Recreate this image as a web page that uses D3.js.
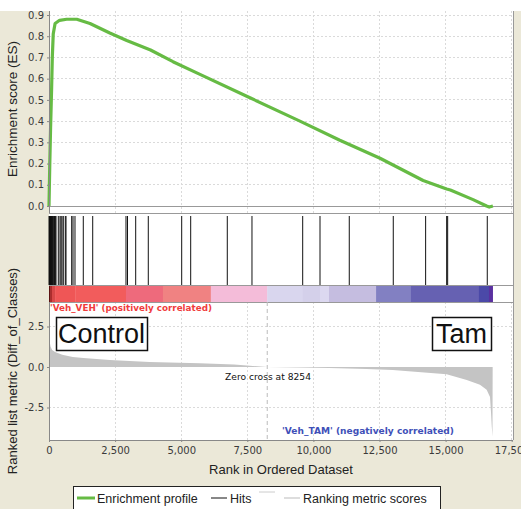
<!DOCTYPE html>
<html>
<head>
<meta charset="utf-8">
<script src="https://cdn.jsdelivr.net/npm/d3@7"></script>
<style>
  body { margin: 0; background: #fff; }
  svg { display: block; }
</style>
</head>
<body>
<div id="chart"></div>
<script>
// running enrichment score
const esRanks  = [0, 30, 60, 100, 125, 160, 230, 400, 670, 1050, 1550, 2300, 2940, 3840, 4690, 5710, 7600, 9490, 11000, 12520, 14150, 15040, 15180, 16040, 16550, 16650, 16790];
const esScores = [0, 0.2, 0.37, 0.56, 0.70, 0.81, 0.86, 0.875, 0.88, 0.88, 0.86, 0.815, 0.78, 0.735, 0.68, 0.62, 0.51, 0.40, 0.31, 0.225, 0.12, 0.08, 0.075, 0.03, 0.0, -0.005, 0.0];

// positions of the gene set members in the ranked list
const hitRanks = [5, 12, 20, 28, 35, 45, 55, 65, 78, 90, 105, 120, 140, 160, 185, 210, 240, 265,
  352, 416, 454, 492, 541, 616, 643, 858, 908, 983, 1297, 1653, 2912, 2969, 3279, 3755,
  5019, 5359, 6743, 7677, 9595, 10250, 11357, 13021, 14245, 15040, 15078, 16576];

// ranked list metric
const metricRanks  = [0, 20, 60, 120, 230, 500, 900, 1300, 2300, 3800, 5700, 7000, 7600, 8254, 9500, 10600, 12000, 13000, 15040, 15800, 16300, 16553, 16680, 16717, 16743, 16773, 16780];
const metricScores = [1.95, 1.6, 1.25, 1.05, 0.92, 0.76, 0.62, 0.56, 0.43, 0.31, 0.23, 0.15, 0.08, 0, -0.03, -0.06, -0.13, -0.19, -0.45, -0.8, -1.1, -1.4, -1.85, -2.8, -3.6, -4.3, 0];

// heat bar: rank where each band starts and its colour
const barStarts = [0, 40, 110, 230, 1000, 2910, 4310, 6120, 8254, 9595, 10250, 10590, 12370, 13690, 16260, 16640];
const barColors = ["#5c1212", "#a82a2a", "#d84848", "#ef5656", "#f25c5c", "#ee6a7c", "#f08282", "#f4bcd9", "#d9d6ee", "#d4d0ea", "#dcd8f0", "#c5bde0", "#8280c2", "#6661b2", "#4b49a8", "#5a30a0"];
const totalGenes = 16780;
const zeroCross = 8254;

const xTicks = [0, 2500, 5000, 7500, 10000, 12500, 15000, 17500];
const esTicks = [0, 0.1, 0.2, 0.3, 0.4, 0.5, 0.6, 0.7, 0.8, 0.9];
const metricTicks = [-2.5, 0, 2.5];

const width = 521, height = 509;
const left = 49, right = 513;
const beige = "#ebe8d8";
const green = "#66bb44";

const svg = d3.select("#chart").append("svg")
    .attr("width", width)
    .attr("height", height)
    .attr("viewBox", [0, 0, width, height]);

svg.append("rect").attr("width", width).attr("height", height).attr("fill", beige);
svg.append("rect").attr("width", width).attr("height", 11).attr("fill", "#fff");
svg.append("rect").attr("x", left).attr("y", 11).attr("width", right - left).attr("height", 429).attr("fill", "#fff");

const x = d3.scaleLinear().domain([0, 17500]).range([left, 511.7]);
const yEs = d3.scaleLinear().domain([0, 0.9]).range([206, 15]);
const yM = d3.scaleLinear().domain([0, 2.5]).range([367, 326.5]);

// grid
const grid = svg.append("g")
    .attr("stroke", "#dadada")
    .attr("stroke-dasharray", "2,2")
    .attr("shape-rendering", "crispEdges");
grid.selectAll(".ves").data(xTicks.slice(1)).join("line")
    .attr("x1", d => x(d)).attr("x2", d => x(d)).attr("y1", 11).attr("y2", 213);
grid.selectAll(".hes").data(esTicks.slice(1)).join("line")
    .attr("x1", left).attr("x2", right).attr("y1", d => yEs(d)).attr("y2", d => yEs(d));
grid.selectAll(".vm").data(xTicks.slice(1)).join("line")
    .attr("class", "vm")
    .attr("x1", d => x(d)).attr("x2", d => x(d)).attr("y1", 302).attr("y2", 440);
grid.selectAll(".hm").data(metricTicks.filter(d => d !== 0)).join("line")
    .attr("class", "hm")
    .attr("x1", left).attr("x2", right).attr("y1", d => yM(d)).attr("y2", d => yM(d));

// panel separators
const sep = svg.append("g").attr("stroke", "#999").attr("shape-rendering", "crispEdges");
[206, 213, 285, 302].forEach(y => {
    sep.append("line").attr("x1", left).attr("x2", right).attr("y1", y + 0.5).attr("y2", y + 0.5);
});
sep.append("line").attr("x1", right + 0.5).attr("x2", right + 0.5).attr("y1", 11).attr("y2", 440);

// ES curve
const esData = esRanks.map((r, i) => ({rank: r, es: esScores[i]}));
svg.append("path")
    .datum(esData)
    .attr("fill", "none")
    .attr("stroke", green)
    .attr("stroke-width", 3.2)
    .attr("stroke-linejoin", "round")
    .attr("d", d3.line().x(d => x(d.rank)).y(d => yEs(d.es)));

// hits
svg.append("g")
    .attr("stroke", "#111")
    .attr("stroke-width", 1)
    .selectAll("line")
    .data(hitRanks)
    .join("line")
    .attr("x1", d => x(d)).attr("x2", d => x(d))
    .attr("y1", 216).attr("y2", 285);

// heat bar
const bands = barStarts.map((s, i) => ({start: s, end: barStarts[i + 1] ?? totalGenes, color: barColors[i]}));
svg.append("g")
    .selectAll("rect")
    .data(bands)
    .join("rect")
    .attr("x", d => x(d.start))
    .attr("width", d => x(d.end) - x(d.start) + 0.3)
    .attr("y", 286)
    .attr("height", 16)
    .attr("fill", d => d.color);

// metric area
const mData = metricRanks.map((r, i) => ({rank: r, v: metricScores[i]}));
svg.append("path")
    .datum(mData)
    .attr("fill", "#c4c4c4")
    .attr("d", d3.area().x(d => x(d.rank)).y0(yM(0)).y1(d => yM(d.v)));

// zero cross
svg.append("line")
    .attr("x1", x(zeroCross)).attr("x2", x(zeroCross))
    .attr("y1", 302).attr("y2", 440)
    .attr("stroke", "#bbb")
    .attr("stroke-dasharray", "4,3");
svg.append("text")
    .attr("x", 225)
    .attr("y", 380)
    .attr("font-family", "DejaVu Sans")
    .attr("font-size", 8.3)
    .attr("textLength", 86)
    .attr("lengthAdjust", "spacingAndGlyphs")
    .attr("fill", "#111")
    .text(`Zero cross at ${zeroCross}`);

svg.append("text")
    .attr("x", 50).attr("y", 311)
    .attr("font-family", "DejaVu Sans")
    .attr("font-weight", "bold")
    .attr("font-size", 8.6)
    .attr("textLength", 162)
    .attr("lengthAdjust", "spacingAndGlyphs")
    .attr("fill", "#f03c3c")
    .text("'Veh_VEH' (positively correlated)");
svg.append("text")
    .attr("x", 282).attr("y", 434)
    .attr("font-family", "DejaVu Sans")
    .attr("font-weight", "bold")
    .attr("font-size", 8.6)
    .attr("textLength", 172)
    .attr("lengthAdjust", "spacingAndGlyphs")
    .attr("fill", "#4050b8")
    .text("'Veh_TAM' (negatively correlated)");

// Control / Tam boxes
function boxLabel(x0, x1, label) {
    const g = svg.append("g");
    g.append("rect")
        .attr("x", x0 + 0.5).attr("y", 317.5)
        .attr("width", x1 - x0).attr("height", 33)
        .attr("fill", "#fff").attr("stroke", "#111").attr("stroke-width", 1.5);
    g.append("text")
        .attr("x", (x0 + x1) / 2).attr("y", 343)
        .attr("text-anchor", "middle")
        .attr("font-family", "Liberation Sans")
        .attr("font-size", 27)
        .attr("fill", "#111")
        .text(label);
}
boxLabel(56, 147, "Control");
boxLabel(432, 491, "Tam");

// axes
const tickFont = g => g.selectAll("text")
    .attr("font-family", "DejaVu Sans")
    .attr("font-size", 10)
    .attr("fill", "#3a3a3a");

svg.append("g")
    .attr("transform", `translate(${left},0)`)
    .call(d3.axisLeft(yEs).tickValues(esTicks).tickFormat(d => d.toFixed(1)).tickSize(2).tickPadding(3))
    .call(g => g.select(".domain").attr("stroke", "#888").attr("d", "M0.5,11V213"))
    .call(g => g.selectAll(".tick line").attr("stroke", "#888"))
    .call(tickFont);

svg.append("g")
    .attr("transform", `translate(${left},0)`)
    .call(d3.axisLeft(yM).tickValues(metricTicks).tickFormat(d => d.toFixed(1)).tickSize(2).tickPadding(3))
    .call(g => g.select(".domain").attr("stroke", "#888").attr("d", "M0.5,302V440"))
    .call(g => g.selectAll(".tick line").attr("stroke", "#888"))
    .call(tickFont);

svg.append("g")
    .attr("transform", "translate(0,440)")
    .call(d3.axisBottom(x).tickValues(xTicks).tickFormat(d3.format(",")).tickSize(2).tickPadding(5))
    .call(g => g.select(".domain").attr("stroke", "#888").attr("d", `M${left},0.5H${right}`))
    .call(g => g.selectAll(".tick line").attr("stroke", "#888"))
    .call(tickFont);

// axis titles
svg.append("text")
    .attr("x", 281).attr("y", 474)
    .attr("text-anchor", "middle")
    .attr("font-family", "Liberation Sans")
    .attr("font-size", 13)
    .attr("fill", "#222")
    .text("Rank in Ordered Dataset");
svg.append("text")
    .attr("transform", "translate(17,109) rotate(-90)")
    .attr("text-anchor", "middle")
    .attr("font-family", "Liberation Sans")
    .attr("font-size", 13.5)
    .attr("fill", "#222")
    .text("Enrichment score (ES)");
svg.append("text")
    .attr("transform", "translate(17,371) rotate(-90)")
    .attr("text-anchor", "middle")
    .attr("font-family", "Liberation Sans")
    .attr("font-size", 13)
    .attr("fill", "#222")
    .text("Ranked list metric (Diff_of_Classes)");

// legend
const legend = svg.append("g");
legend.append("rect")
    .attr("x", 73.5).attr("y", 486.5)
    .attr("width", 367).attr("height", 30)
    .attr("fill", "#fff").attr("stroke", "#222");
const legendFont = t => t.attr("font-family", "Liberation Sans").attr("font-size", 12.5).attr("fill", "#222");
legend.append("line").attr("x1", 77).attr("x2", 95).attr("y1", 498).attr("y2", 498).attr("stroke", green).attr("stroke-width", 3);
legend.append("text").attr("x", 97).attr("y", 502.5).call(legendFont).text("Enrichment profile");
legend.append("line").attr("x1", 211).attr("x2", 227).attr("y1", 498).attr("y2", 498).attr("stroke", "#111");
legend.append("text").attr("x", 230).attr("y", 502.5).call(legendFont).text("Hits");
legend.append("line").attr("x1", 259).attr("x2", 275).attr("y1", 492).attr("y2", 492).attr("stroke", "#ccc");
legend.append("line").attr("x1", 284).attr("x2", 300).attr("y1", 498).attr("y2", 498).attr("stroke", "#bbb");
legend.append("text").attr("x", 303).attr("y", 502.5).call(legendFont).text("Ranking metric scores");
</script>
</body>
</html>
